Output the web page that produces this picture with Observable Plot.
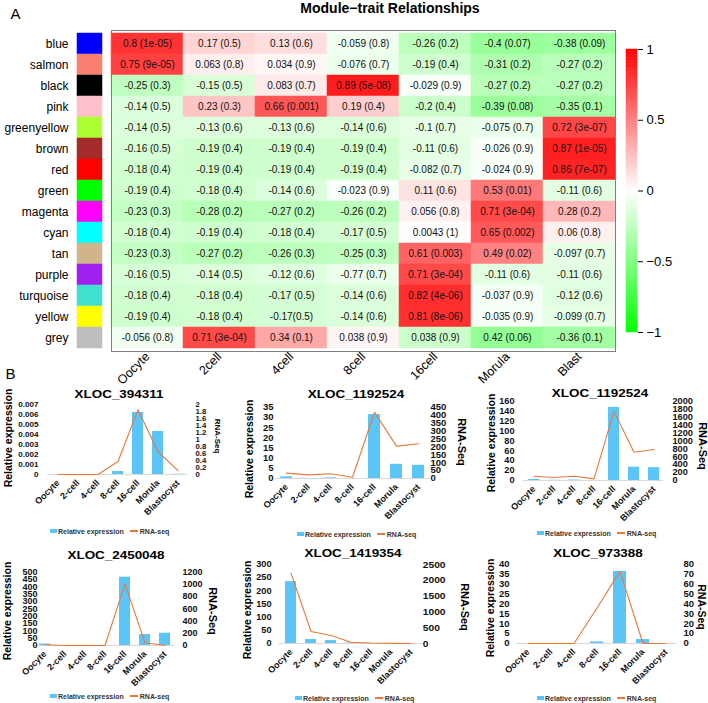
<!DOCTYPE html>
<html><head><meta charset="utf-8">
<script src="https://cdn.jsdelivr.net/npm/d3@7"></script>
<script src="https://cdn.jsdelivr.net/npm/@observablehq/plot@0.6"></script>
<style>
body{margin:0;background:#fff;font-family:"Liberation Sans",Arial,sans-serif;}
#root{position:relative;width:708px;height:703px;overflow:hidden;background:#fff;}
#root svg{position:absolute;overflow:visible;}
.lab{position:absolute;line-height:1;white-space:nowrap;color:#000;}
.leg{position:absolute;height:10px;display:flex;align-items:center;font-size:7px;font-weight:bold;color:#333;white-space:nowrap;}
</style></head><body><div id="root"></div>
<script>
// ---------- Panel A data ----------
const modules = ["blue","salmon","black","pink","greenyellow","brown","red","green","magenta","cyan","tan","purple","turquoise","yellow","grey"];
const moduleColors = ["#0000FF","#FA8072","#000000","#FFC0CB","#ADFF2F","#A52A2A","#FF0000","#00FF00","#FF00FF","#00FFFF","#D2B48C","#A020F0","#40E0D0","#FFFF00","#BEBEBE"];
const traits = ["Oocyte","2cell","4cell","8cell","16cell","Morula","Blast"];
const corrLabels = [
 ["0.8 (1e-05)","0.17 (0.5)","0.13 (0.6)","-0.059 (0.8)","-0.26 (0.2)","-0.4 (0.07)","-0.38 (0.09)"],
 ["0.75 (9e-05)","0.063 (0.8)","0.034 (0.9)","-0.076 (0.7)","-0.19 (0.4)","-0.31 (0.2)","-0.27 (0.2)"],
 ["-0.25 (0.3)","-0.15 (0.5)","0.083 (0.7)","0.89 (5e-08)","-0.029 (0.9)","-0.27 (0.2)","-0.27 (0.2)"],
 ["-0.14 (0.5)","0.23 (0.3)","0.66 (0.001)","0.19 (0.4)","-0.2 (0.4)","-0.39 (0.08)","-0.35 (0.1)"],
 ["-0.14 (0.5)","-0.13 (0.6)","-0.13 (0.6)","-0.14 (0.6)","-0.1 (0.7)","-0.075 (0.7)","0.72 (3e-07)"],
 ["-0.16 (0.5)","-0.19 (0.4)","-0.19 (0.4)","-0.19 (0.4)","-0.11 (0.6)","-0.026 (0.9)","0.87 (1e-05)"],
 ["-0.18 (0.4)","-0.19 (0.4)","-0.19 (0.4)","-0.19 (0.4)","-0.082 (0.7)","-0.024 (0.9)","0.86 (7e-07)"],
 ["-0.19 (0.4)","-0.18 (0.4)","-0.14 (0.6)","-0.023 (0.9)","0.11 (0.6)","0.53 (0.01)","-0.11 (0.6)"],
 ["-0.23 (0.3)","-0.28 (0.2)","-0.27 (0.2)","-0.26 (0.2)","0.056 (0.8)","0.71 (3e-04)","0.28 (0.2)"],
 ["-0.18 (0.4)","-0.19 (0.4)","-0.18 (0.4)","-0.17 (0.5)","0.0043 (1)","0.65 (0.002)","0.06 (0.8)"],
 ["-0.23 (0.3)","-0.27 (0.2)","-0.26 (0.3)","-0.25 (0.3)","0.61 (0.003)","0.49 (0.02)","-0.097 (0.7)"],
 ["-0.16 (0.5)","-0.14 (0.5)","-0.12 (0.6)","-0.77 (0.7)","0.71 (3e-04)","-0.11 (0.6)","-0.11 (0.6)"],
 ["-0.18 (0.4)","-0.18 (0.4)","-0.17 (0.5)","-0.14 (0.6)","0.82 (4e-06)","-0.037 (0.9)","-0.12 (0.6)"],
 ["-0.19 (0.4)","-0.18 (0.4)","-0.17(0.5)","-0.14 (0.6)","0.81 (8e-06)","-0.035 (0.9)","-0.099 (0.7)"],
 ["-0.056 (0.8)","0.71 (3e-04)","0.34 (0.1)","0.038 (0.9)","0.038 (0.9)","0.42 (0.06)","-0.36 (0.1)"]
];
// colour shade of each cell
const corrShade = [
 [0.8,0.17,0.13,-0.059,-0.26,-0.4,-0.38],
 [0.75,0.063,0.034,-0.076,-0.19,-0.31,-0.27],
 [-0.25,-0.15,0.083,0.89,-0.029,-0.27,-0.27],
 [-0.14,0.23,0.66,0.19,-0.2,-0.39,-0.35],
 [-0.14,-0.13,-0.13,-0.14,-0.1,-0.075,0.72],
 [-0.16,-0.19,-0.19,-0.19,-0.11,-0.026,0.87],
 [-0.18,-0.19,-0.19,-0.19,-0.082,-0.024,0.86],
 [-0.19,-0.18,-0.14,-0.023,0.11,0.53,-0.11],
 [-0.23,-0.28,-0.27,-0.26,0.056,0.71,0.28],
 [-0.18,-0.19,-0.18,-0.17,0.0043,0.65,0.06],
 [-0.23,-0.27,-0.26,-0.25,0.61,0.49,-0.097],
 [-0.16,-0.14,-0.12,-0.077,0.71,-0.11,-0.11],
 [-0.18,-0.18,-0.17,-0.14,0.82,-0.037,-0.12],
 [-0.19,-0.18,-0.17,-0.14,0.81,-0.035,-0.099],
 [-0.056,0.71,0.34,0.038,-0.2,-0.42,-0.36]
];
const legendTicks = [-1,-0.5,0,0.5,1];

// ---------- Panel B data ----------
const stages = ["Oocyte","2-cell","4-cell","8-cell","16-cell","Morula","Blastocyst"];
const geneTitles = ["XLOC_394311","XLOC_1192524","XLOC_1192524","XLOC_2450048","XLOC_1419354","XLOC_973388"];
const relExpr = [
 [0,0,0,0.0003,0.0062,0.0043,0.00003],
 [0.8,0,0.3,0,31.5,7,6.5],
 [2,0.5,1,0,148,27,26],
 [10,0,0,0,468,75,84],
 [235,15,11,2,0,0,0],
 [0,0,0,0.8,36.5,2,0]
];
const rnaSeq = [
 [0,0,0,0.37,1.85,0.65,0.11],
 [34,23,30,8,420,205,220],
 [109,76,109,42,1750,717,785],
 [12,0,0,0,1014,44,0],
 [2225,380,253,41,15,5,0],
 [0,0,0,36,73,0,0]
];
const leftTicks = [
 [0,0.001,0.002,0.003,0.004,0.005,0.006,0.007],
 [0,5,10,15,20,25,30,35],
 [0,20,40,60,80,100,120,140,160],
 [0,50,100,150,200,250,300,350,400,450,500],
 [0,50,100,150,200,250,300],
 [0,5,10,15,20,25,30,35,40]
];
const rightTicks = [
 [0,0.2,0.4,0.6,0.8,1,1.2,1.4,1.6,1.8,2],
 [0,50,100,150,200,250,300,350,400,450],
 [0,200,400,600,800,1000,1200,1400,1600,1800,2000],
 [0,200,400,600,800,1000,1200],
 [0,500,1000,1500,2000,2500],
 [0,10,20,30,40,50,60,70,80]
];

// ---------- styling / layout ----------
const FONT = "'Liberation Sans', Arial, sans-serif";
const BAR = "#5BC5F7", LINE = "#E8793A";
const root = document.getElementById("root");
const heatColor = {type:"linear", domain:[-1,0,1], range:["#00ff00","#ffffff","#ff0000"], interpolate:"rgb"};

function place(svg, left, top){ svg.style.left = left+"px"; svg.style.top = top+"px"; root.appendChild(svg); }
function label(text, cx, cy, size, weight, rotate=0, sx=1){
  const d = document.createElement("div");
  d.className = "lab"; d.textContent = text;
  d.style.left = cx+"px"; d.style.top = cy+"px";
  d.style.fontSize = size+"px"; d.style.fontWeight = weight;
  d.style.transform = `translate(-50%,-50%) rotate(${rotate}deg) scaleX(${sx})`;
  root.appendChild(d);
}

// ----- Panel A: module colour swatches + row labels -----
const HT = 30, HB = 351, HSVG = 395;
const swatch = Plot.plot({
  width:104, height:HSVG, marginLeft:77, marginRight:2, marginTop:HT, marginBottom:HSVG-HB,
  style:{background:"transparent", fontFamily:FONT, overflow:"visible"},
  x:{domain:["c"], axis:null, padding:0},
  y:{domain:modules, padding:0},
  color:{type:"identity"},
  marks:[
    Plot.cell(modules, {x:()=>"c", y:d=>d, fill:(d,i)=>moduleColors[i], stroke:(d,i)=>moduleColors[i], strokeWidth:0.5, inset:0}),
    Plot.axisY({anchor:"left", tickSize:0, tickPadding:9, fontSize:12, label:null})
  ]
});
place(swatch, 0, 0);

// ----- Panel A: correlation heatmap -----
const cells = [];
modules.forEach((m,i)=>traits.forEach((t,j)=>cells.push({module:m, trait:t, value:corrShade[i][j], label:corrLabels[i][j]})));
const heat = Plot.plot({
  width:520, height:HSVG, marginLeft:6, marginRight:10, marginTop:HT, marginBottom:HSVG-HB,
  style:{background:"transparent", fontFamily:FONT, overflow:"visible"},
  x:{domain:traits, padding:0},
  y:{domain:modules, padding:0, axis:null},
  color:heatColor,
  marks:[
    Plot.cell(cells, {x:"trait", y:"module", fill:"value", stroke:"value", strokeWidth:0.5, inset:0}),
    Plot.text(cells, {x:"trait", y:"module", text:"label", fontSize:10, fill:"#111"}),
    Plot.frame({stroke:"#7f7f7f"}),
    Plot.axisX({anchor:"bottom", tickRotate:-45, tickSize:0, tickPadding:3, fontSize:12.5, label:null})
  ]
});
place(heat, 105, 0);

// ----- Panel A: colour legend -----
const rampStops = d3.range(0, 100).map(i => -1 + i*0.02);
const bar = Plot.plot({
  width:108, height:300, marginLeft:26, marginRight:71, marginTop:9, marginBottom:8,
  style:{background:"transparent", fontFamily:FONT, overflow:"visible"},
  x:{domain:[0,1], axis:null},
  y:{domain:[-1,1]},
  color:heatColor,
  marks:[
    Plot.rect(rampStops, {x1:0, x2:1, y1:d=>d, y2:d=>d+0.02, fill:d=>d+0.01, stroke:d=>d+0.01, strokeWidth:0.5}),
    Plot.axisY(legendTicks, {anchor:"right", tickSize:5, tickPadding:4, fontSize:13, label:null,
      text:d=> d<0 ? "\u2212"+String(-d) : String(d)})
  ]
});
place(bar, 600, 40);

label("Module\u2212trait Relationships", 390, 7.5, 14, "bold");
label("A", 15.5, 12.5, 15, "normal");
label("B", 10.5, 372.5, 15, "normal");

// ----- Panel B: six dual-axis bar/line charts -----
const layout = [
  {svgL:0,   svgW:235, x0:47,     x1:187,    yT:404, yB:474, lp:9,    rp:8,    lf:7.5, rf:7.2, title:[118.5,395], rel:[8,438],   rna:[217,436], rnaF:8,  leg:[50,531]},
  {svgL:232, svgW:236, x0:274,    x1:430,    yT:407, yB:478, lp:1,    rp:0,    lf:8.8, rf:8.8, title:[356,394.5], rel:[249,449], rna:[461,442], rnaF:11, leg:[297,534]},
  {svgL:470, svgW:238, x0:523,    x1:663,    yT:401, yB:480, lp:9,    rp:9,    lf:8.5, rf:8.5, title:[600,394],   rel:[491,443], rna:[701.5,446], rnaF:11, leg:[537,533]},
  {svgL:0,   svgW:235, x0:33.5,   x1:174.5,  yT:572, yB:645, lp:-3.5, rp:7.5,  lf:8.3, rf:8.3, title:[116,555.5], rel:[7,611],   rna:[212,611], rnaF:11, leg:[50,696]},
  {svgL:232, svgW:236, x0:278.75, x1:422.25, yT:564, yB:643, lp:7.75, rp:0,    lf:8.5, rf:9.5, title:[352.5,553.5], rel:[247,610], rna:[464,607], rnaF:11, leg:[295,698]},
  {svgL:470, svgW:238, x0:515.5,  x1:676.5,  yT:564, yB:643, lp:6.5,  rp:6.5,  lf:8.8, rf:8.8, title:[598,553.5], rel:[490,608], rna:[702,607], rnaF:10.5, leg:[537,698]}
];
const SX = 1.2;   // horizontal stretch of the titles in the original bitmap
const TSX = 1.08; // stretch of the tick labels

layout.forEach((L, p) => {
  const lmax = leftTicks[p][leftTicks[p].length-1];
  const rmax = rightTicks[p][rightTicks[p].length-1];
  const k = lmax / rmax;
  const rows = stages.map((s,i)=>({stage:s, rel:relExpr[p][i], rna:rnaSeq[p][i]}));
  const svgT = L.yT - 14, svgH = L.yB - svgT + 45;
  const chart = Plot.plot({
    width:L.svgW, height:svgH,
    marginLeft:L.x0 - L.svgL, marginRight:L.svgL + L.svgW - L.x1,
    marginTop:L.yT - svgT, marginBottom:svgT + svgH - L.yB,
    style:{background:"transparent", fontFamily:FONT, overflow:"visible", color:"#111"},
    x:{domain:stages, paddingInner:0.45, paddingOuter:0.225},
    y:{domain:[0, lmax]},
    marks:[
      Plot.ruleY([0], {stroke:"#d9d9d9"}),
      Plot.barY(rows, {x:"stage", y:"rel", fill:BAR}),
      Plot.line(rows, {x:"stage", y:d=>d.rna*k, stroke:LINE, strokeWidth:1.1}),
      Plot.axisY(leftTicks[p], {anchor:"left", tickSize:0, tickPadding:L.lp, fontSize:L.lf, fontWeight:"bold", label:null, text:d=>String(d)}),
      Plot.axisY(rightTicks[p], {anchor:"right", y:d=>d*k, tickSize:0, tickPadding:L.rp, fontSize:L.rf, fontWeight:"bold", label:null, text:d=>String(d)}),
      Plot.axisX({anchor:"bottom", tickRotate:-45, tickSize:0, tickPadding:7, fontSize:9, fontWeight:"bold", label:null})
    ]
  });
  chart.querySelectorAll('g[aria-label="y-axis tick label"] text').forEach(t=>{
    const tr = t.getAttribute("transform");
    if (tr) t.setAttribute("transform", tr + ` scale(${TSX},1)`);
  });
  place(chart, L.svgL, svgT);

  label(geneTitles[p], L.title[0], L.title[1], 11.2, "bold", 0, SX);
  label("Relative expression", L.rel[0], L.rel[1], 10.5, "bold", -90);
  label("RNA-Seq", L.rna[0], L.rna[1], L.rnaF, "bold", 90);

  const lg = document.createElement("div");
  lg.className = "leg";
  lg.style.left = L.leg[0]+"px"; lg.style.top = (L.leg[1]-5)+"px";
  lg.innerHTML = `<span style="display:inline-block;width:7px;height:4px;background:${BAR};margin-right:1px"></span><span>Relative expression</span><span style="display:inline-block;width:8px;height:1.5px;background:${LINE};margin-left:6px;margin-right:2px"></span><span>RNA-seq</span>`;
  root.appendChild(lg);
});
</script>
</body></html>
